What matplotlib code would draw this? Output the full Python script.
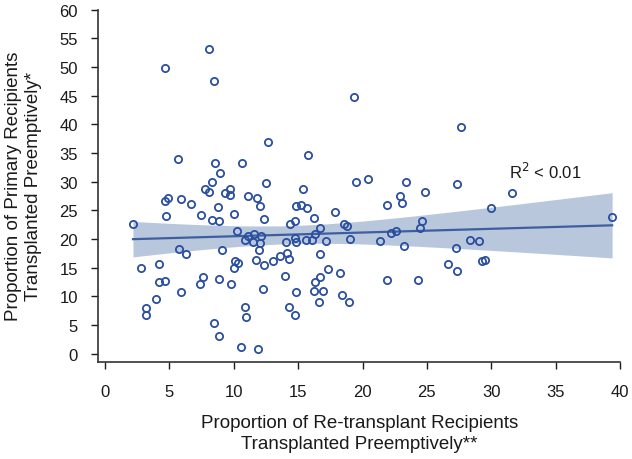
import numpy as np
import matplotlib
matplotlib.use("Agg")
import matplotlib.pyplot as plt

plt.rcParams['font.family'] = ['Liberation Sans', 'DejaVu Sans']

retransplant_pct = [
    8.10, 4.66, 8.49, 19.33, 12.63, 5.67, 8.54, 10.66, 8.95, 8.33,
    12.50, 7.79, 8.05, 9.70, 9.32, 9.73, 11.10, 11.78, 4.66, 4.92,
    5.90, 6.65, 8.75, 12.00, 4.74, 7.45, 9.99, 8.33, 8.83, 12.37,
    2.17, 10.22, 11.10, 10.90, 11.60, 11.47, 12.10, 12.06, 5.75, 6.31,
    9.08, 11.98, 2.82, 4.22, 10.12, 10.30, 9.99, 11.75, 12.32, 13.07,
    13.60, 4.22, 4.63, 7.58, 7.40, 8.83, 9.78, 5.90, 12.24, 3.98,
    3.21, 3.21, 10.87, 10.97, 8.49, 8.83, 10.58, 11.86,
    15.74, 19.51, 20.44, 23.37, 15.40, 24.84, 22.88, 23.03, 21.89, 14.85,
    15.19, 15.68, 17.86, 16.20, 14.75, 14.36, 24.59, 18.56, 18.79, 16.72,
    24.43, 22.57, 22.18, 16.30, 14.78, 14.83, 14.03, 15.63, 16.10, 17.16,
    19.02, 21.38, 23.24,
    14.10, 14.30, 16.67, 14.00, 17.34, 18.27, 16.67, 16.33, 21.89, 24.30,
    26.65, 14.83, 16.20, 16.95, 18.42, 18.94, 16.61, 14.30, 14.75,
    27.69, 27.33, 31.58, 30.02, 39.39, 28.34, 29.06, 27.25, 27.33, 29.27,
    29.48,
]
primary_pct = [
    53.2, 49.9, 47.5, 44.8, 37.0, 34.0, 33.3, 33.3, 31.5, 29.9,
    29.7, 28.7, 28.2, 28.7, 28.0, 27.6, 27.5, 27.1, 26.7, 27.2,
    27.0, 26.1, 25.5, 25.7, 24.1, 24.2, 24.3, 23.3, 23.1, 23.5,
    22.7, 21.4, 20.5, 19.8, 20.8, 19.5, 20.5, 19.3, 18.2, 17.4,
    18.0, 18.0, 14.9, 15.7, 16.2, 15.8, 15.0, 16.4, 15.4, 16.2,
    17.0, 12.5, 12.6, 13.4, 12.1, 13.1, 12.1, 10.7, 11.3, 9.6,
    8.0, 6.7, 8.2, 6.4, 5.3, 3.0, 1.2, 0.9,
    34.7, 29.9, 30.5, 30.0, 28.7, 28.2, 27.5, 26.3, 26.0, 25.8,
    26.0, 25.4, 24.8, 23.7, 23.2, 22.6, 23.2, 22.7, 22.2, 22.0,
    21.9, 21.4, 21.0, 20.8, 20.2, 19.5, 19.4, 19.8, 19.8, 19.7,
    20.0, 19.7, 18.8,
    17.5, 16.6, 17.3, 13.6, 14.7, 14.1, 13.3, 12.5, 12.9, 12.8,
    15.7, 10.8, 11.0, 11.0, 10.3, 9.0, 9.0, 8.2, 6.7,
    39.5, 29.6, 28.1, 25.4, 23.9, 19.8, 19.6, 18.5, 14.5, 16.2,
    16.3,
]
x_ticks = [0, 5, 10, 15, 20, 25, 30, 35, 40]
y_ticks = [0, 5, 10, 15, 20, 25, 30, 35, 40, 45, 50, 55, 60]
annotation = "R$^2$ < 0.01"

x = np.array(retransplant_pct)
y = np.array(primary_pct)

# OLS fit with 95% CI for the mean
n = len(x)
slope, intercept = np.polyfit(x, y, 1)
resid = y - (slope * x + intercept)
s = np.sqrt(np.sum(resid ** 2) / (n - 2))
xs = np.linspace(x.min(), x.max(), 200)
ys = slope * xs + intercept
se = s * np.sqrt(1.0 / n + (xs - x.mean()) ** 2 / np.sum((x - x.mean()) ** 2))
t = 1.98
lo, hi = ys - t * se, ys + t * se

fig = plt.figure(figsize=(6.32, 4.60), dpi=100)
ax = fig.add_axes([0.155, 0.2115, 0.828, 0.7665])

ax.fill_between(xs, lo, hi, color='#b9c7dd', lw=0, zorder=1)
ax.plot(xs, ys, color='#3d5f9f', lw=1.6, zorder=2)
ax.plot(x, y, 'o', ms=5.2, mfc='none', mec='#2a4f9f', mew=1.3, zorder=3)

ax.text(34.2, 31.9, annotation, ha='center', va='center', fontsize=12, color='#1a1a1a')

ax.set_xlim(-0.55, 40.1)
ax.set_ylim(-1.4, 60.1)
ax.set_xticks(x_ticks)
ax.set_yticks(y_ticks)
ax.tick_params(labelsize=12, length=5, width=1.0, colors='#1a1a1a', pad=9.5)
ax.tick_params(axis='x', pad=11)

for side in ['top', 'right']:
    ax.spines[side].set_visible(False)
for side in ['left', 'bottom']:
    ax.spines[side].set_linewidth(1.2)
    ax.spines[side].set_color('#333333')
ax.spines['left'].set_bounds(-1.4, 60)
ax.spines['bottom'].set_bounds(-0.55, 40)

ax.set_xlabel("Proportion of Re-transplant Recipients\nTransplanted Preemptively**",
              fontsize=13.5, color='#1a1a1a', linespacing=1.3)
ax.set_ylabel("Proportion of Primary Recipients\nTransplanted Preemptively*",
              fontsize=13.5, color='#1a1a1a', linespacing=1.3)
ax.xaxis.set_label_coords(0.5, -0.148)
ax.yaxis.set_label_coords(-0.106, 0.5)

fig.savefig("out.png", dpi=100)
